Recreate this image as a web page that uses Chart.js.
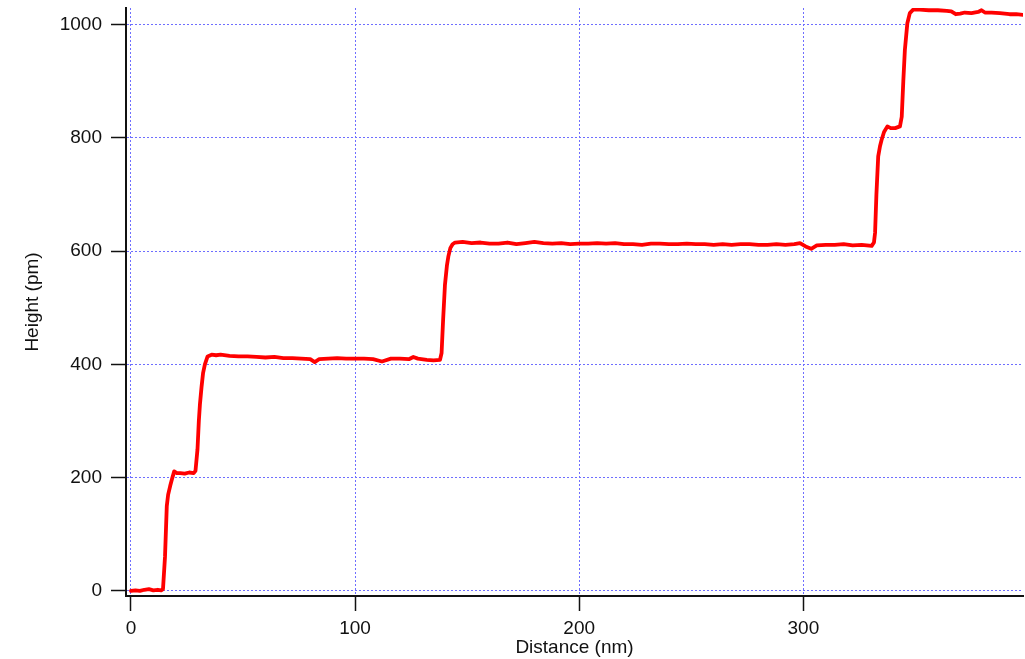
<!DOCTYPE html>
<html>
<head>
<meta charset="utf-8">
<script src="https://cdn.jsdelivr.net/npm/chart.js@4"></script>
<style>
  html, body { margin: 0; padding: 0; background: #ffffff; }
  #wrap { width: 1025px; height: 659px; }
</style>
</head>
<body>
<div id="wrap"><canvas id="profileChart" width="1025" height="659"></canvas></div>
<script>
// distance (nm) along the profile
const distance = [
  0, 2, 4, 6, 8, 10, 12, 13.5, 14.3, 15.2, 16.0, 16.6, 17.5, 18.5, 19.3, 20.5, 22, 24, 26, 28, 28.8,
  29.7, 30.3, 30.8, 31.5, 32.2, 33, 34.2, 36, 38, 40, 44, 48, 52, 56, 60, 64, 68, 72, 76, 80, 82, 84,
  88, 92, 96, 100, 104, 108, 112, 116, 120, 124, 126, 128, 132, 135, 137.9, 138.6, 139.3, 140.1, 141,
  141.6, 142.5, 143.5, 144.6, 148, 152, 156, 160, 164, 168, 172, 176, 180, 184, 188, 192, 196, 200,
  204, 208, 212, 216, 220, 224, 228, 232, 236, 240, 244, 248, 252, 256, 260, 264, 268, 272, 276, 280,
  284, 288, 292, 296, 298.5, 301, 303.5, 306, 310, 314, 318, 322, 326, 330.5, 331.5, 332, 332.6,
  333.4, 334.2, 334.9, 336, 337.5, 339, 341, 343.1, 343.9, 344.6, 345.3, 346.4, 347.5, 349, 352, 356,
  360, 364, 366, 368, 370, 372, 375, 378, 379.5, 381, 384, 387.7, 392, 395, 398
];

// height (pm)
const height = [
  0, 1, 0, 2, 3, 1, 2, 1, 3, 60, 150, 170, 185, 200, 211, 208, 208, 207, 209, 208, 212,
  250, 300, 330, 360, 385, 400, 414, 417, 416, 417, 415, 414, 414, 413, 412, 413, 411, 411, 410, 409, 404, 409,
  410, 411, 410, 410, 410, 409, 405, 410, 410, 409, 413, 410, 408, 407, 408, 420, 480, 540, 575,
  590, 605, 612, 615, 616, 614, 615, 613, 613, 615, 612, 614, 616, 614, 613, 614, 612, 613,
  613, 614, 613, 614, 612, 612, 611, 613, 613, 612, 612, 613, 612, 612, 611, 612, 611, 612, 612, 611,
  611, 612, 611, 612, 614, 608, 604, 610, 611, 611, 612, 610, 611, 609, 615, 632, 700,
  767, 785, 796, 810, 820, 817, 817, 820, 837, 900, 955, 1002, 1020, 1026, 1026, 1025,
  1025, 1024, 1023, 1018, 1019, 1021, 1020, 1022, 1025, 1021, 1021, 1020, 1018, 1018, 1017
];

const xTicks = [0, 100, 200, 300];
const yTicks = [0, 200, 400, 600, 800, 1000];

const points = distance.map(function(d, i) { return { x: d, y: height[i] }; });

const fontFamily = '"Liberation Sans", Arial, Helvetica, sans-serif';
const gridBlue = 'rgb(110, 110, 255)';

new Chart(document.getElementById('profileChart').getContext('2d'), {
  type: 'line',
  data: {
    datasets: [{
      data: points,
      borderColor: '#ff0000',
      borderWidth: 3.8,
      borderJoinStyle: 'round',
      borderCapStyle: 'round',
      pointRadius: 0,
      tension: 0,
      fill: false
    }]
  },
  options: {
    responsive: false,
    animation: false,
    layout: { padding: { top: 8, right: 2, left: 0, bottom: 0 } },
    plugins: {
      legend: { display: false },
      tooltip: { enabled: false }
    },
    scales: {
      x: {
        type: 'linear',
        min: -2.2,
        max: 398,
        afterFit: function(scale) {
          scale.height = 63;
          scale.paddingLeft = 0;
          scale.paddingRight = 0;
        },
        afterBuildTicks: function(scale) { scale.ticks = xTicks.map(function(v) { return { value: v }; }); },
        ticks: {
          includeBounds: false,
          maxRotation: 0,
          padding: 6,
          color: '#111',
          font: { family: fontFamily, size: 19 },
          callback: function(v) { return String(v); }
        },
        grid: {
          color: gridBlue,
          lineWidth: 1,
          tickLength: 15,
          tickColor: '#111',
          tickWidth: 1.5,
          tickBorderDash: []
        },
        border: { display: true, color: '#111', width: 2, dash: [2, 2] },
        title: {
          display: true,
          text: 'Distance (nm)',
          color: '#111',
          padding: { top: 0, bottom: 0 },
          font: { family: fontFamily, size: 19 }
        }
      },
      y: {
        min: -9,
        max: 1029,
        afterFit: function(scale) {
          scale.width = 126;
          scale.paddingTop = 0;
          scale.paddingBottom = 0;
        },
        afterBuildTicks: function(scale) { scale.ticks = yTicks.map(function(v) { return { value: v }; }); },
        ticks: {
          includeBounds: false,
          padding: 9,
          color: '#111',
          font: { family: fontFamily, size: 19 },
          callback: function(v) { return String(v); }
        },
        grid: {
          color: gridBlue,
          lineWidth: 1,
          tickLength: 15,
          tickColor: '#111',
          tickWidth: 1.5,
          tickBorderDash: []
        },
        border: { display: true, color: '#111', width: 2, dash: [2, 2] },
        title: {
          display: true,
          text: 'Height (pm)',
          color: '#111',
          padding: { top: 21, bottom: 0 },
          font: { family: fontFamily, size: 19 }
        }
      }
    }
  }
});
</script>
</body>
</html>
